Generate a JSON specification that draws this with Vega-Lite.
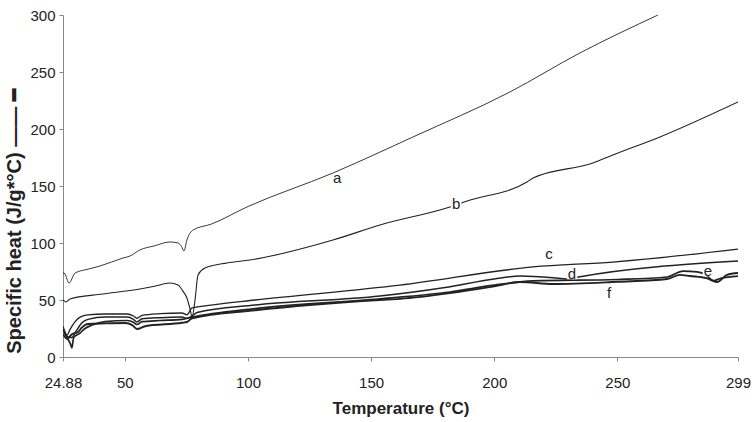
{
  "$schema": "https://vega.github.io/schema/vega-lite/v6.json",
  "width": 675,
  "height": 342,
  "autosize": {"type": "none"},
  "padding": {"left": 63, "top": 15, "right": 18, "bottom": 65},
  "background": "white",
  "config": {"view": {"stroke": null}, "font": "Liberation Sans"},
  "datasets": {
    "curves": [
      {"s":"a","T":24.88,"V":74},{"s":"a","T":25.7,"V":72.8},{"s":"a","T":27.3,"V":64.9},{"s":"a","T":29.8,"V":73.7},{"s":"a","T":35,"V":77},{"s":"a","T":39.9,"V":79.8},{"s":"a","T":49.2,"V":86.8},{"s":"a","T":52,"V":88.5},{"s":"a","T":56.1,"V":93.9},{"s":"a","T":62,"V":97.5},{"s":"a","T":68.3,"V":100.9},{"s":"a","T":71.6,"V":100},{"s":"a","T":73,"V":97},{"s":"a","T":74,"V":93},{"s":"a","T":75.2,"V":102.6},{"s":"a","T":77.7,"V":111.4},{"s":"a","T":85,"V":116.5},{"s":"a","T":99.6,"V":131.6},{"s":"a","T":134.5,"V":161.4},{"s":"a","T":167,"V":193},{"s":"a","T":206.4,"V":232.5},{"s":"a","T":234.8,"V":266.7},{"s":"a","T":266.5,"V":300},
      {"s":"b","T":24.88,"V":50},{"s":"b","T":26.1,"V":48.2},{"s":"b","T":27.7,"V":50.9},{"s":"b","T":40,"V":55},{"s":"b","T":56.1,"V":59.6},{"s":"b","T":62,"V":62},{"s":"b","T":68.3,"V":64.9},{"s":"b","T":71.6,"V":63.2},{"s":"b","T":73.5,"V":58},{"s":"b","T":75.2,"V":51.8},{"s":"b","T":76.5,"V":42},{"s":"b","T":77.3,"V":35.1},{"s":"b","T":78.5,"V":50},{"s":"b","T":79.7,"V":71.9},{"s":"b","T":82.5,"V":78},{"s":"b","T":91.5,"V":82.5},{"s":"b","T":100.8,"V":85.1},{"s":"b","T":134.5,"V":102.6},{"s":"b","T":153.6,"V":115.8},{"s":"b","T":182,"V":131.6},{"s":"b","T":189,"V":136.8},{"s":"b","T":213.3,"V":153.5},{"s":"b","T":215.8,"V":157},{"s":"b","T":240.1,"V":170.2},{"s":"b","T":248.2,"V":177.2},{"s":"b","T":267.3,"V":193},{"s":"b","T":299,"V":223.7},
      {"s":"c","T":24.88,"V":27},{"s":"c","T":25.7,"V":22},{"s":"c","T":26.5,"V":19},{"s":"c","T":27.7,"V":24},{"s":"c","T":29.8,"V":31},{"s":"c","T":31.8,"V":35},{"s":"c","T":35,"V":37},{"s":"c","T":42,"V":37.7},{"s":"c","T":50.9,"V":37.7},{"s":"c","T":53.5,"V":36},{"s":"c","T":54.9,"V":34},{"s":"c","T":57,"V":36.5},{"s":"c","T":64.3,"V":38},{"s":"c","T":73.2,"V":38.6},{"s":"c","T":75.2,"V":37},{"s":"c","T":77.3,"V":43},{"s":"c","T":85,"V":45.5},{"s":"c","T":102.9,"V":50},{"s":"c","T":161.7,"V":63},{"s":"c","T":215.8,"V":79},{"s":"c","T":248.2,"V":83.3},{"s":"c","T":299,"V":94.7},
      {"s":"d","T":24.88,"V":24},{"s":"d","T":26.5,"V":18},{"s":"d","T":28.5,"V":17},{"s":"d","T":30,"V":22},{"s":"d","T":32.6,"V":30},{"s":"d","T":35,"V":33},{"s":"d","T":42,"V":35},{"s":"d","T":50.9,"V":35},{"s":"d","T":53.5,"V":33},{"s":"d","T":54.9,"V":30.7},{"s":"d","T":57,"V":33.5},{"s":"d","T":64.3,"V":34.5},{"s":"d","T":73.2,"V":35},{"s":"d","T":75.2,"V":34},{"s":"d","T":77.3,"V":36},{"s":"d","T":79.3,"V":39},{"s":"d","T":102.9,"V":45.6},{"s":"d","T":153.6,"V":53.5},{"s":"d","T":180,"V":61},{"s":"d","T":200,"V":68.5},{"s":"d","T":210.5,"V":71},{"s":"d","T":223.9,"V":69.5},{"s":"d","T":229.6,"V":68.4},{"s":"d","T":233.6,"V":70},{"s":"d","T":299,"V":84.2},
      {"s":"e","T":24.88,"V":24},{"s":"e","T":26.5,"V":17},{"s":"e","T":27.8,"V":12},{"s":"e","T":28.5,"V":8},{"s":"e","T":29.2,"V":17},{"s":"e","T":31.8,"V":21},{"s":"e","T":33.8,"V":25},{"s":"e","T":36.7,"V":28},{"s":"e","T":42,"V":31},{"s":"e","T":50.9,"V":32},{"s":"e","T":53.5,"V":30.5},{"s":"e","T":54.9,"V":28.5},{"s":"e","T":57,"V":31},{"s":"e","T":64.3,"V":32},{"s":"e","T":73.2,"V":33},{"s":"e","T":77.3,"V":35},{"s":"e","T":102.9,"V":42.5},{"s":"e","T":153.6,"V":51},{"s":"e","T":182,"V":57},{"s":"e","T":200,"V":63},{"s":"e","T":215.8,"V":66.7},{"s":"e","T":250,"V":68},{"s":"e","T":270.2,"V":70.2},{"s":"e","T":276.7,"V":75.4},{"s":"e","T":282.4,"V":74.6},{"s":"e","T":286,"V":72},{"s":"e","T":289,"V":67},{"s":"e","T":292,"V":69},{"s":"e","T":299,"V":71},
      {"s":"f","T":24.88,"V":20},{"s":"f","T":26.5,"V":16},{"s":"f","T":28.5,"V":20},{"s":"f","T":31,"V":22},{"s":"f","T":32.6,"V":26},{"s":"f","T":35,"V":29},{"s":"f","T":42,"V":29.5},{"s":"f","T":50.1,"V":29.8},{"s":"f","T":53,"V":28},{"s":"f","T":54.9,"V":24.6},{"s":"f","T":58.2,"V":27},{"s":"f","T":73.2,"V":30},{"s":"f","T":75.2,"V":30.7},{"s":"f","T":77.3,"V":34},{"s":"f","T":102.9,"V":41},{"s":"f","T":153.6,"V":50},{"s":"f","T":161.7,"V":51},{"s":"f","T":182,"V":56},{"s":"f","T":200,"V":62},{"s":"f","T":210.5,"V":65.8},{"s":"f","T":223.9,"V":64},{"s":"f","T":250,"V":66},{"s":"f","T":270.2,"V":68.4},{"s":"f","T":275.4,"V":72},{"s":"f","T":279.5,"V":71},{"s":"f","T":286.4,"V":69},{"s":"f","T":290.5,"V":65.8},{"s":"f","T":294.5,"V":72},{"s":"f","T":299,"V":73.7}
    ],
    "labels": [
      {"s":"a","T":136.2,"V":157},
      {"s":"b","T":184.5,"V":134.2},
      {"s":"c","T":222.2,"V":90.4},
      {"s":"d","T":231.6,"V":72.8},
      {"s":"e","T":286.8,"V":75.4},
      {"s":"f","T":246.6,"V":56.1}
    ]
  },
  "layer": [
    {
      "data": {"name": "curves"},
      "mark": {"type": "line", "color": "#222", "interpolate": "monotone", "clip": true},
      "encoding": {
        "x": {
          "field": "T", "type": "quantitative",
          "scale": {"domain": [24.88, 299], "nice": false, "zero": false},
          "axis": {
            "values": [24.88, 50, 100, 150, 200, 250, 299],
            "labelExpr": "datum.value == 24.88 ? '24.88' : format(datum.value, 'd')",
            "title": "Temperature (°C)",
            "titleFontSize": 17, "titleFontWeight": "bold", "titleColor": "#222",
            "labelFontSize": 15, "labelColor": "#222", "labelPadding": 14,
            "labelFlush": false, "labelOverlap": false,
            "tickSize": 4, "domainColor": "#888", "tickColor": "#888",
            "grid": false, "titlePadding": 10
          }
        },
        "y": {
          "field": "V", "type": "quantitative",
          "scale": {"domain": [0, 300], "nice": false},
          "axis": {
            "values": [0, 50, 100, 150, 200, 250, 300],
            "title": "Specific heat (J/g*°C) —— ━",
            "titleFontSize": 20, "titleFontWeight": "bold", "titleColor": "#222",
            "titleX": -49, "titleY": 206, "titleAngle": -90,
            "titleAlign": "center", "titleBaseline": "middle",
            "labelFontSize": 15, "labelColor": "#222", "labelPadding": 4,
            "tickSize": 4, "domainColor": "#888", "tickColor": "#888",
            "grid": false
          }
        },
        "detail": {"field": "s"},
        "strokeWidth": {
          "field": "s", "type": "nominal",
          "scale": {"domain": ["a","b","c","d","e","f"], "range": [0.9, 1.9, 0.9, 0.9, 0.9, 1.1]},
          "legend": null
        }
      }
    },
    {
      "data": {"name": "labels"},
      "transform": [{"filter": "indexof(['b','d','e'], datum.s) >= 0"}],
      "mark": {"type": "point", "shape": "square", "filled": true, "color": "white", "opacity": 1, "size": 110},
      "encoding": {
        "x": {"field": "T", "type": "quantitative"},
        "y": {"field": "V", "type": "quantitative"}
      }
    },
    {
      "data": {"name": "labels"},
      "mark": {"type": "text", "fontSize": 15, "color": "#222"},
      "encoding": {
        "x": {"field": "T", "type": "quantitative"},
        "y": {"field": "V", "type": "quantitative"},
        "text": {"field": "s"}
      }
    }
  ]
}
